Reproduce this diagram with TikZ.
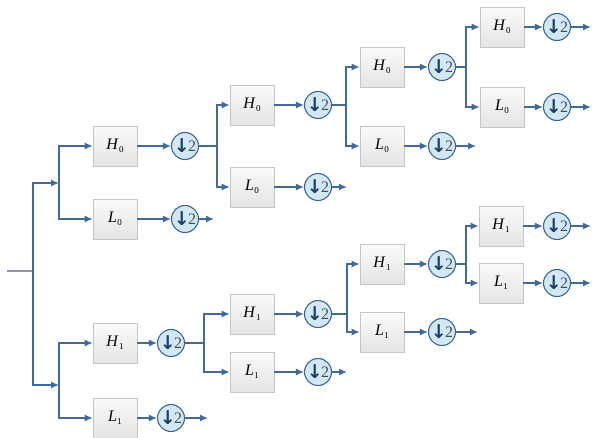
\documentclass[tikz,border=0pt]{standalone}
\usepackage{fontspec}
\setmainfont{Liberation Serif}
\newfontfamily\arrfont{DejaVu Sans}
\usetikzlibrary{arrows.meta,shadows}
\definecolor{lineblue}{HTML}{41699A}
\definecolor{circfill}{HTML}{D3E8F6}
\definecolor{circdraw}{HTML}{3E6690}
\definecolor{boxdraw}{HTML}{C6C6C6}
\definecolor{boxtop}{HTML}{FAFAFA}
\definecolor{boxbot}{HTML}{E4E4E4}
\definecolor{arrnavy}{HTML}{1F3F68}
\definecolor{inputgray}{HTML}{8C96A6}
\tikzset{
  filt/.style={draw=boxdraw, line width=0.6pt, top color=boxtop, bottom color=boxbot,
    minimum width=44pt, minimum height=40pt, inner sep=0pt,
    drop shadow={shadow xshift=0.8pt, shadow yshift=-0.8pt, opacity=0.25},
    font=\fontsize{16}{18}\selectfont},
  ds/.style={circle, draw=circdraw, line width=1.1pt, fill=circfill, minimum size=27pt, inner sep=0pt,
    font=\fontsize{16}{18}\selectfont},
  ln/.style={draw=lineblue, line width=1.4pt},
  arr/.style={ln, -{Latex[length=8pt,width=7pt]}},
}
\newcommand{\dsl}{\raisebox{-1.5pt}{\textcolor{arrnavy}{\fontsize{19}{20}\selectfont\arrfont\bfseries ↓}}\kern-1.5pt\textcolor{black!70}{2}}
\newcommand{\flt}[2]{\textit{#1}\kern0.5pt\raisebox{-3.5pt}{\fontsize{9}{10}\selectfont #2}}
\begin{document}
\begin{tikzpicture}[x=1pt,y=-1pt]
\useasboundingbox (0,0) rectangle (592,437);
% input
\coordinate (in) at (7,271);
\coordinate (j0) at (33,271);
\draw[ln, draw=inputgray] (in) -- (j0);
\coordinate (j1) at (59,183);
\coordinate (j2) at (59,385);
\draw[arr] (j0) |- (j1);
\draw[arr] (j0) |- (j2);

% ===== top half =====
\node[filt] (h0a) at (115,146) {\flt{H}{0}};
\node[filt] (l0a) at (115,219) {\flt{L}{0}};
\node[ds] (ch0a) at (185,146) {\dsl};
\node[ds] (cl0a) at (185,219) {\dsl};
\draw[arr] (j1) |- (h0a.west);
\draw[arr] (j1) |- (l0a.west);
\draw[arr] (h0a) -- (ch0a);
\draw[arr] (l0a) -- (cl0a);
\coordinate (ol0a) at (214,219);
\draw[arr] (cl0a) -- (ol0a);

\coordinate (j3) at (217,146);
\node[filt] (h0b) at (252,105) {\flt{H}{0}};
\node[filt] (l0b) at (252,187) {\flt{L}{0}};
\node[ds] (ch0b) at (318,105) {\dsl};
\node[ds] (cl0b) at (318,187) {\dsl};
\draw[ln] (ch0a) -- (j3);
\draw[arr] (j3) |- (h0b.west);
\draw[arr] (j3) |- (l0b.west);
\draw[arr] (h0b) -- (ch0b);
\draw[arr] (l0b) -- (cl0b);
\coordinate (ol0b) at (347,187);
\draw[arr] (cl0b) -- (ol0b);

\coordinate (j4) at (346,105);
\node[filt] (h0c) at (382,67) {\flt{H}{0}};
\node[filt] (l0c) at (382,146) {\flt{L}{0}};
\node[ds] (ch0c) at (442,67) {\dsl};
\node[ds] (cl0c) at (442,146) {\dsl};
\draw[ln] (ch0b) -- (j4);
\draw[arr] (j4) |- (h0c.west);
\draw[arr] (j4) |- (l0c.west);
\draw[arr] (h0c) -- (ch0c);
\draw[arr] (l0c) -- (cl0c);
\coordinate (ol0c) at (476,146);
\draw[arr] (cl0c) -- (ol0c);

\coordinate (j5) at (466,67);
\node[filt] (h0d) at (502,27) {\flt{H}{0}};
\node[filt] (l0d) at (502,107) {\flt{L}{0}};
\node[ds] (ch0d) at (557,27) {\dsl};
\node[ds] (cl0d) at (557,107) {\dsl};
\draw[ln] (ch0c) -- (j5);
\draw[arr] (j5) |- (h0d.west);
\draw[arr] (j5) |- (l0d.west);
\draw[arr] (h0d) -- (ch0d);
\draw[arr] (l0d) -- (cl0d);
\coordinate (oh0d) at (591,27);
\coordinate (ol0d) at (591,107);
\draw[arr] (ch0d) -- (oh0d);
\draw[arr] (cl0d) -- (ol0d);

% ===== bottom half =====
\node[filt] (h1a) at (115,343) {\flt{H}{1}};
\node[filt] (l1a) at (115,418) {\flt{L}{1}};
\node[ds] (ch1a) at (171,343) {\dsl};
\node[ds] (cl1a) at (171,418) {\dsl};
\draw[arr] (j2) |- (h1a.west);
\draw[arr] (j2) |- (l1a.west);
\draw[arr] (h1a) -- (ch1a);
\draw[arr] (l1a) -- (cl1a);
\coordinate (ol1a) at (208,418);
\draw[arr] (cl1a) -- (ol1a);

\coordinate (j6) at (204,343);
\node[filt] (h1b) at (252,314) {\flt{H}{1}};
\node[filt] (l1b) at (252,372) {\flt{L}{1}};
\node[ds] (ch1b) at (318,314) {\dsl};
\node[ds] (cl1b) at (318,372) {\dsl};
\draw[ln] (ch1a) -- (j6);
\draw[arr] (j6) |- (h1b.west);
\draw[arr] (j6) |- (l1b.west);
\draw[arr] (h1b) -- (ch1b);
\draw[arr] (l1b) -- (cl1b);
\coordinate (ol1b) at (347,372);
\draw[arr] (cl1b) -- (ol1b);

\coordinate (j7) at (347,314);
\node[filt] (h1c) at (382,264) {\flt{H}{1}};
\node[filt] (l1c) at (382,332) {\flt{L}{1}};
\node[ds] (ch1c) at (442,264) {\dsl};
\node[ds] (cl1c) at (442,332) {\dsl};
\draw[ln] (ch1b) -- (j7);
\draw[arr] (j7) |- (h1c.west);
\draw[arr] (j7) |- (l1c.west);
\draw[arr] (h1c) -- (ch1c);
\draw[arr] (l1c) -- (cl1c);
\coordinate (ol1c) at (478,332);
\draw[arr] (cl1c) -- (ol1c);

\coordinate (j8) at (466,264);
\node[filt] (h1d) at (501,226) {\flt{H}{1}};
\node[filt] (l1d) at (501,283) {\flt{L}{1}};
\node[ds] (ch1d) at (557,226) {\dsl};
\node[ds] (cl1d) at (557,283) {\dsl};
\draw[ln] (ch1c) -- (j8);
\draw[arr] (j8) |- (h1d.west);
\draw[arr] (j8) |- (l1d.west);
\draw[arr] (h1d) -- (ch1d);
\draw[arr] (l1d) -- (cl1d);
\coordinate (oh1d) at (591,226);
\coordinate (ol1d) at (591,283);
\draw[arr] (ch1d) -- (oh1d);
\draw[arr] (cl1d) -- (ol1d);
\end{tikzpicture}
\end{document}
